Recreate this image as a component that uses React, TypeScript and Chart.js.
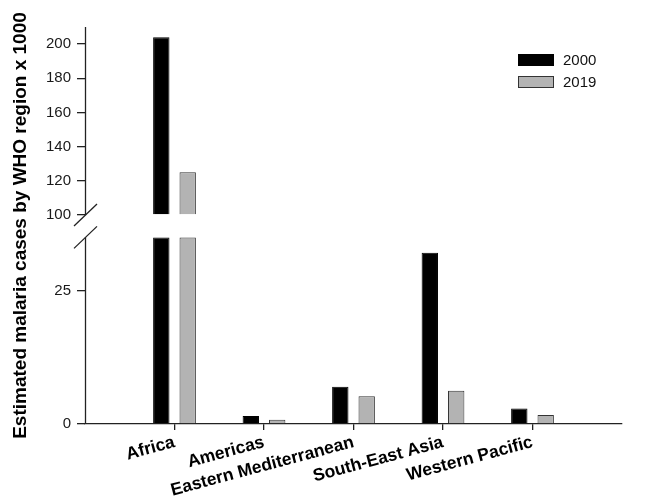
import React, { useEffect, useRef } from 'react';
import { Chart, registerables } from 'chart.js';

Chart.register(...registerables);

// ---- data ----
const categories = ['Africa', 'Americas', 'Eastern Mediterranean', 'South-East Asia', 'Western Pacific'];
const seriesLabels = ['2000', '2019'];
const cases2000 = [204, 1.5, 7.0, 32.1, 2.9];
const cases2019 = [125, 0.8, 5.2, 6.25, 1.7];
const lowerTicks = [0, 25];
const upperTicks = [100, 120, 140, 160, 180, 200];
const BREAK_LOW = 35; // top of the lower segment
const BREAK_HIGH = 100; // bottom of the upper segment
const LOWER_AXIS_MAX = 39.2;
const UPPER_AXIS_MAX = 210;
const yTitle = 'Estimated malaria cases by WHO region x 1000';

const seriesValues = [cases2000, cases2019];
const seriesFill = ['#000000', '#b3b3b3'];
const seriesBorder = ['#000000', '#333333'];

const FONT = 'Arial, "Liberation Sans", sans-serif';

const decorPlugin = {
  id: 'decor',
  afterDraw(chart: any) {
    const ctx = chart.ctx as CanvasRenderingContext2D;
    const hi = chart.scales.yHigh;
    const lo = chart.scales.yLow;
    const area = chart.chartArea;
    const x0 = Math.round(area.left) + 0.5;
    const yTop = hi.top;
    const yHiBreak = hi.getPixelForValue(BREAK_HIGH);
    const yLoBreak = lo.getPixelForValue(BREAK_LOW);
    const yBottom = lo.getPixelForValue(0);
    ctx.save();
    ctx.strokeStyle = '#222';
    ctx.lineWidth = 1.3;
    const line = (a: number, b: number, c: number, d: number) => {
      ctx.beginPath();
      ctx.moveTo(a, b);
      ctx.lineTo(c, d);
      ctx.stroke();
    };
    line(x0, yTop, x0, yHiBreak);
    line(x0, yLoBreak, x0, yBottom);
    [yHiBreak, yLoBreak].forEach((y) => line(x0 - 11.5, y + 11, x0 + 11.5, y - 11));

    // y title
    ctx.save();
    ctx.translate(21, (area.top + area.bottom) / 2);
    ctx.rotate(-Math.PI / 2);
    ctx.fillStyle = '#000';
    ctx.font = `bold 19px ${FONT}`;
    ctx.textAlign = 'center';
    ctx.textBaseline = 'middle';
    ctx.fillText(yTitle, 0, 0);
    ctx.restore();

    // legend
    const lx = area.right - 104;
    const ly = area.top + 27;
    seriesLabels.forEach((lab, i) => {
      const y = ly + i * 22;
      ctx.fillStyle = seriesFill[i];
      ctx.fillRect(lx, y, 36, 12);
      ctx.strokeStyle = seriesBorder[i];
      ctx.lineWidth = 1;
      ctx.strokeRect(lx + 0.5, y + 0.5, 35, 11);
      ctx.fillStyle = '#111';
      ctx.font = `15px ${FONT}`;
      ctx.textAlign = 'left';
      ctx.textBaseline = 'middle';
      ctx.fillText(lab, lx + 45, y + 6.5);
    });
    ctx.restore();
  },
};

export default function App() {
  const ref = useRef<HTMLCanvasElement>(null);
  useEffect(() => {
    if (!ref.current) return;
    const datasets: any[] = [];
    seriesLabels.forEach((lab, i) => {
      datasets.push({
        label: lab,
        stack: lab,
        yAxisID: 'yLow',
        data: seriesValues[i].map((v, k) => ({ x: k + 1, y: Math.min(v, BREAK_LOW) })),
        backgroundColor: seriesFill[i],
        borderColor: seriesBorder[i],
        borderWidth: 1,
        categoryPercentage: 0.59,
        barPercentage: 0.62,
      });
    });
    seriesLabels.forEach((lab, i) => {
      datasets.push({
        label: lab + ' (upper)',
        stack: lab,
        yAxisID: 'yHigh',
        base: BREAK_HIGH,
        data: seriesValues[i].map((v, k) => ({ x: k + 1, y: v > BREAK_LOW ? v : null })),
        backgroundColor: seriesFill[i],
        borderColor: seriesBorder[i],
        borderWidth: 1,
        categoryPercentage: 0.59,
        barPercentage: 0.62,
      });
    });

    const yCommon = (ticks: number[]) => ({
      type: 'linear',
      position: 'left',
      stack: 'y',
      ticks: {
        font: { family: FONT, size: 15 },
        color: '#1a1a1a',
        padding: 6,
        includeBounds: false,
      },
      afterBuildTicks: (s: any) => {
        s.ticks = ticks.map((v) => ({ value: v }));
      },
      grid: { drawOnChartArea: false, tickLength: 8, color: '#222', lineWidth: 1.3 },
      border: { display: false },
      afterFit: (s: any) => {
        s.width = 85;
      },
    });

    const chart = new Chart(ref.current, {
      type: 'bar',
      data: { datasets },
      plugins: [decorPlugin],
      options: {
        animation: false,
        responsive: false,
        layout: { padding: { left: 0, right: 31, top: 27, bottom: 0 } },
        plugins: { legend: { display: false }, tooltip: { enabled: false } },
        scales: {
          x: {
            type: 'linear',
            offset: false,
            min: 0,
            max: categories.length + 1,
            afterBuildTicks: (s: any) => {
              s.ticks = categories.map((_, i) => ({ value: i + 1 }));
            },
            ticks: {
              autoSkip: false,
              minRotation: 15,
              maxRotation: 15,
              font: { family: FONT, size: 17.5, weight: 'bold' },
              color: '#000',
              padding: 2,
              callback: (v: any) => categories[Number(v) - 1] ?? '',
            },
            grid: { offset: false, drawOnChartArea: false, tickLength: 6, color: '#222', lineWidth: 1.3 },
            border: { display: true, color: '#222', width: 1.3 },
            afterFit: (s: any) => {
              s.height = 76;
            },
          },
          yLow: {
            ...yCommon(lowerTicks),
            min: 0,
            max: LOWER_AXIS_MAX,
            stackWeight: 209,
          },
          yHigh: {
            ...yCommon(upperTicks),
            min: BREAK_HIGH,
            max: UPPER_AXIS_MAX,
            stackWeight: 188,
          },
        } as any,
      },
    });
    return () => chart.destroy();
  }, []);

  return (
    <div style={{ position: 'absolute', left: 0, top: 0, width: 653, height: 500, background: '#fff' }}>
      <canvas ref={ref} width={653} height={500} />
    </div>
  );
}
